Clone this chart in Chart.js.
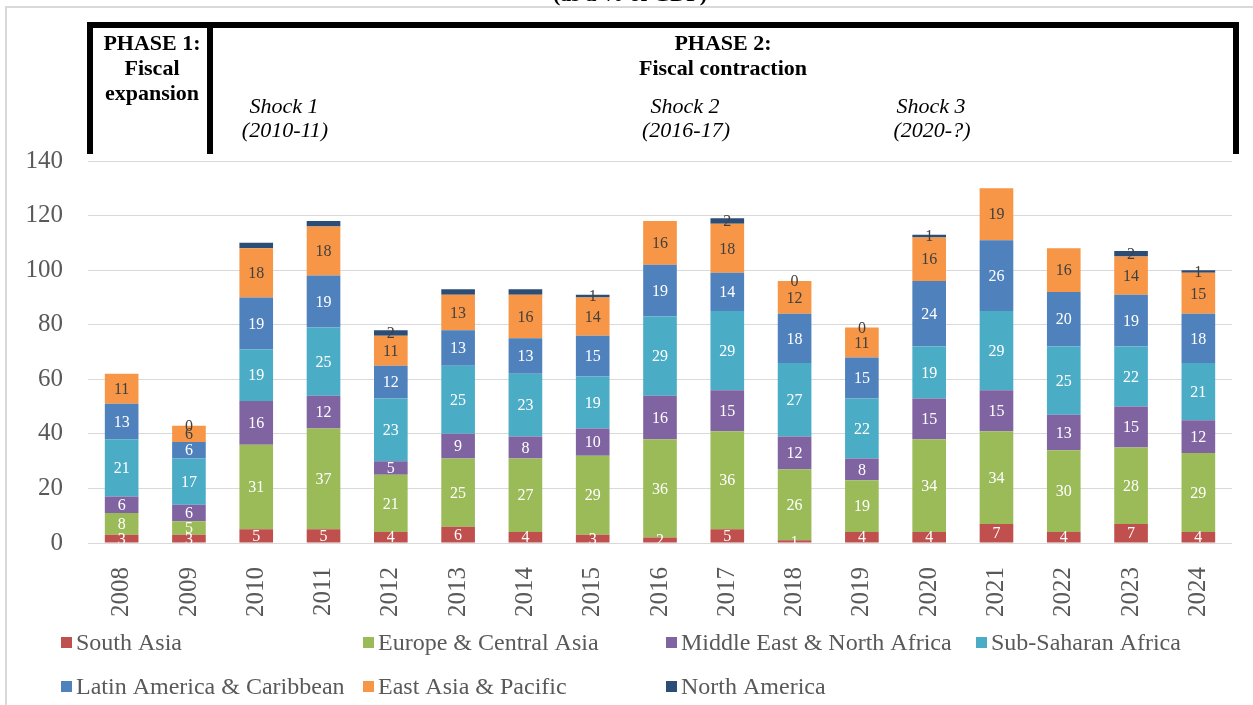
<!DOCTYPE html>
<html>
<head>
<meta charset="utf-8">
<script src="https://cdn.jsdelivr.net/npm/chart.js@4"></script>
<style>
  html, body { margin: 0; padding: 0; background: #fff; }
  canvas { display: block; }
</style>
</head>
<body>
<canvas id="debtChart" width="1253" height="705"></canvas>
<script>
const years = ['2008', '2009', '2010', '2011', '2012', '2013', '2014', '2015', '2016',
    '2017', '2018', '2019', '2020', '2021', '2022', '2023', '2024'];
const southAsia = [3, 3, 5, 5, 4, 6, 4, 3, 2, 5, 1, 4, 4, 7, 4, 7, 4];
const europeCentralAsia = [8, 5, 31, 37, 21, 25, 27, 29, 36, 36, 26, 19, 34, 34, 30, 28, 29];
const middleEastNorthAfrica = [6, 6, 16, 12, 5, 9, 8, 10, 16, 15, 12, 8, 15, 15, 13, 15, 12];
const subSaharanAfrica = [21, 17, 19, 25, 23, 25, 23, 19, 29, 29, 27, 22, 19, 29, 25, 22, 21];
const latinAmericaCaribbean = [13, 6, 19, 19, 12, 13, 13, 15, 19, 14, 18, 15, 24, 26, 20, 19, 18];
const eastAsiaPacific = [11, 6, 18, 18, 11, 13, 16, 14, 16, 18, 12, 11, 16, 19, 16, 14, 15];
const northAmerica = [null, 0, 2, 2, 2, 2, 2, 1, null, 2, 0, 0, 1, null, null, 2, 1];
// years where the North America value carries a label in the original
const northAmericaLabelled = ['2009', '2012', '2015', '2017', '2018', '2019', '2020', '2023', '2024'];

const SERIF = "'Liberation Serif', 'Times New Roman', serif";
const GREY = '#595959';

const series = [
    { label: 'South Asia', data: southAsia, color: '#C0504D', text: '#fff' },
    { label: 'Europe & Central Asia', data: europeCentralAsia, color: '#9BBB59', text: '#fff' },
    { label: 'Middle East & North Africa', data: middleEastNorthAfrica, color: '#8064A2', text: '#fff' },
    { label: 'Sub-Saharan Africa', data: subSaharanAfrica, color: '#4BACC6', text: '#fff' },
    { label: 'Latin America & Caribbean', data: latinAmericaCaribbean, color: '#4F81BD', text: '#fff' },
    { label: 'East Asia & Pacific', data: eastAsiaPacific, color: '#F79646', text: '#404040' },
    { label: 'North America', data: northAmerica, color: '#2C4D75', text: '#404040' }
];

// value labels in the middle of each segment
const segmentLabels = {
    id: 'segmentLabels',
    afterDatasetsDraw(chart) {
        const ctx = chart.ctx;
        const area = chart.chartArea;
        ctx.save();
        ctx.beginPath();
        ctx.rect(0, 0, chart.width, area.bottom);
        ctx.clip();
        ctx.font = '16px ' + SERIF;
        ctx.textAlign = 'center';
        ctx.textBaseline = 'middle';
        chart.data.datasets.forEach((ds, i) => {
            const meta = chart.getDatasetMeta(i);
            meta.data.forEach((bar, j) => {
                const v = ds.data[j];
                if (v === null) return;
                if (ds.label === 'North America' && !northAmericaLabelled.includes(years[j])) return;
                const p = bar.getProps(['x', 'y', 'base'], true);
                ctx.fillStyle = ds.labelColor;
                ctx.fillText(String(v), p.x, (p.y + p.base) / 2 + 1);
            });
        });
        ctx.restore();
    }
};

// phase box, shock notes, cut title and frame
const annotations = {
    id: 'annotations',
    afterDraw(chart) {
        const ctx = chart.ctx;
        ctx.save();
        ctx.fillStyle = '#d9d9d9';
        ctx.fillRect(5, 6, 2, chart.height - 6);
        ctx.fillRect(5, 6, chart.width - 5, 2);

        ctx.fillStyle = '#000';
        ctx.textAlign = 'center';
        ctx.textBaseline = 'alphabetic';
        ctx.font = 'bold 22px ' + SERIF;
        ctx.fillText('(as a % of GDP)', 630, 1);

        ctx.fillRect(87, 22, 1152, 6);
        ctx.fillRect(87, 22, 6, 132);
        ctx.fillRect(207, 22, 6, 132);
        ctx.fillRect(1233, 22, 6, 132);

        ctx.font = 'bold 22px ' + SERIF;
        ctx.fillText('PHASE 1:', 152, 50);
        ctx.fillText('Fiscal', 152, 75);
        ctx.fillText('expansion', 152, 100);
        ctx.fillText('PHASE 2:', 723, 50);
        ctx.fillText('Fiscal contraction', 723, 75);

        ctx.font = 'italic 22px ' + SERIF;
        ctx.fillText('Shock 1', 284, 113);
        ctx.fillText('(2010-11)', 285, 137);
        ctx.fillText('Shock 2', 685, 113);
        ctx.fillText('(2016-17)', 686, 137);
        ctx.fillText('Shock 3', 931, 113);
        ctx.fillText('(2020-?)', 932, 137);
        ctx.restore();
    }
};

// legend laid out in Excel-like columns
const gridLegend = {
    id: 'gridLegend',
    afterDraw(chart) {
        const ctx = chart.ctx;
        const cols = [61, 363, 666, 976];
        const rows = [643, 687];
        ctx.save();
        ctx.font = '24px ' + SERIF;
        ctx.textAlign = 'left';
        ctx.textBaseline = 'middle';
        chart.data.datasets.forEach((ds, i) => {
            const x = cols[i % 4];
            const y = rows[Math.floor(i / 4)];
            ctx.fillStyle = ds.backgroundColor;
            ctx.fillRect(x, y - 6, 11, 11);
            ctx.fillStyle = GREY;
            ctx.fillText(ds.label, x + 15, y + 1);
        });
        ctx.restore();
    }
};

new Chart('debtChart', {
    type: 'bar',
    data: {
        labels: years,
        datasets: series.map(s => ({
            label: s.label,
            data: s.data,
            backgroundColor: s.color,
            labelColor: s.text,
            borderWidth: 0,
            categoryPercentage: 1,
            barPercentage: 0.5
        }))
    },
    options: {
        responsive: false,
        animation: false,
        layout: { padding: { top: 161, right: 21, left: 0, bottom: 0 } },
        plugins: {
            legend: { display: false },
            tooltip: { enabled: false }
        },
        scales: {
            x: {
                stacked: true,
                grid: { display: false },
                border: { display: false },
                ticks: {
                    color: GREY,
                    font: { family: SERIF, size: 25 },
                    minRotation: 90,
                    maxRotation: 90,
                    padding: 16
                },
                afterFit(scale) { scale.height = 162; }
            },
            y: {
                stacked: true,
                min: 0,
                max: 140,
                grid: { color: '#d9d9d9', drawTicks: false },
                border: { display: false },
                ticks: {
                    stepSize: 20,
                    color: GREY,
                    font: { family: SERIF, size: 25 },
                    padding: 25
                },
                afterFit(scale) { scale.width = 88; }
            }
        }
    },
    plugins: [segmentLabels, annotations, gridLegend]
});
</script>
</body>
</html>
